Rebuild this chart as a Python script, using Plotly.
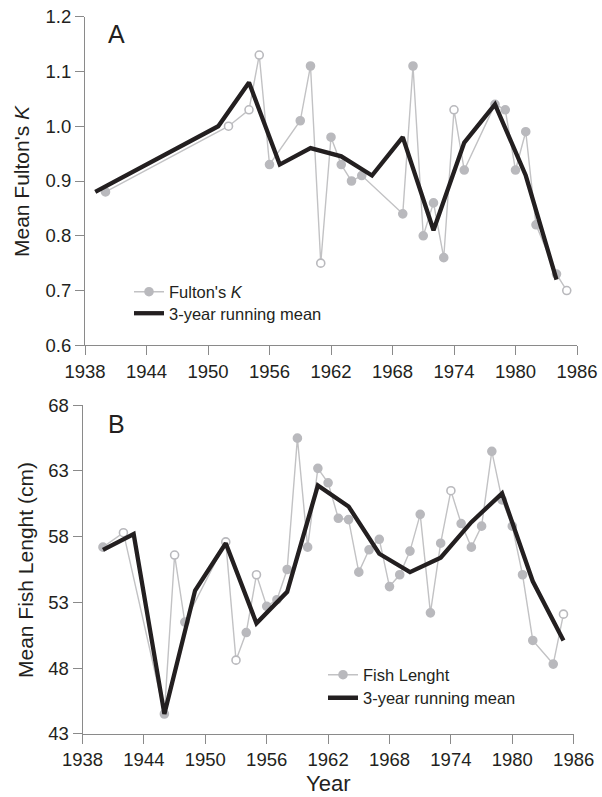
import plotly.graph_objects as go

# ---------------- data ----------------
years_k = [1940, 1952, 1954, 1955, 1956, 1959, 1960, 1961, 1962, 1963, 1964, 1965,
           1969, 1970, 1971, 1972, 1973, 1974, 1975, 1978, 1979, 1980, 1981, 1982,
           1984, 1985]
fulton_k = [0.88, 1.00, 1.03, 1.13, 0.93, 1.01, 1.11, 0.75, 0.98, 0.93, 0.90, 0.91,
            0.84, 1.11, 0.80, 0.86, 0.76, 1.03, 0.92, 1.04, 1.03, 0.92, 0.99, 0.82,
            0.73, 0.70]
open_years_k = [1952, 1954, 1955, 1961, 1974, 1985]

mean_years_k = [1939, 1951, 1954, 1957, 1960, 1963, 1966, 1969, 1972, 1975, 1978, 1981, 1984]
mean_k = [0.88, 1.00, 1.08, 0.93, 0.96, 0.945, 0.91, 0.98, 0.81, 0.97, 1.04, 0.91, 0.72]

years_len = [1940, 1942, 1946, 1947, 1948, 1952, 1953, 1954, 1955, 1956, 1957, 1958,
             1959, 1960, 1961, 1962, 1963, 1964, 1965, 1966, 1967, 1968, 1969, 1970,
             1971, 1972, 1973, 1974, 1975, 1976, 1977, 1978, 1979, 1980, 1981, 1982,
             1984, 1985]
fish_len = [57.2, 58.3, 44.5, 56.6, 51.5, 57.6, 48.6, 50.7, 55.1, 52.7, 53.2, 55.5,
            65.5, 57.2, 63.2, 62.1, 59.4, 59.3, 55.3, 57.0, 57.8, 54.2, 55.1, 56.9,
            59.7, 52.2, 57.5, 61.5, 59.0, 57.2, 58.8, 64.5, 60.8, 58.8, 55.1, 50.1,
            48.3, 52.1]
open_years_len = [1942, 1947, 1952, 1953, 1955, 1974, 1985]

mean_years_len = [1940, 1943, 1946, 1949, 1952, 1955, 1958, 1961, 1964, 1967, 1970,
                  1973, 1976, 1979, 1982, 1985]
mean_len = [57.0, 58.2, 44.5, 53.9, 57.5, 51.4, 53.8, 61.9, 60.3, 56.7, 55.3, 56.4,
            59.1, 61.3, 54.6, 50.1]

x_ticks = [1938, 1944, 1950, 1956, 1962, 1968, 1974, 1980, 1986]
k_ticks = [0.6, 0.7, 0.8, 0.9, 1.0, 1.1, 1.2]
len_ticks = [43, 48, 53, 58, 63, 68]

# ---------------- style ----------------
W, H = 602, 797
FONT = "Liberation Sans, Arial, sans-serif"
TXT = "#231f20"
GREY_M = "#b9b9bd"
GREY_L = "#c2c2c4"
BLACK = "#231f20"
AXC = "#8a8a8a"


def px_x(p):
    return p / W


def px_y(p):
    return 1 - p / H


def marker_fill(years, open_years):
    return ["white" if y in open_years else GREY_M for y in years]


fig = go.Figure()

# Panel A
fig.add_trace(go.Scatter(
    x=years_k, y=fulton_k, mode="lines+markers", name="Fulton's <i>K</i>",
    line=dict(color=GREY_L, width=1.4),
    marker=dict(size=8, color=marker_fill(years_k, open_years_k),
                line=dict(color=GREY_M, width=1.6)),
    xaxis="x", yaxis="y", legend="legend", cliponaxis=False))
fig.add_trace(go.Scatter(
    x=mean_years_k, y=mean_k, mode="lines", name="3-year running mean",
    line=dict(color=BLACK, width=4.3),
    xaxis="x", yaxis="y", legend="legend3", cliponaxis=False))

# Panel B
fig.add_trace(go.Scatter(
    x=years_len, y=fish_len, mode="lines+markers", name="Fish Lenght",
    line=dict(color=GREY_L, width=1.4),
    marker=dict(size=8, color=marker_fill(years_len, open_years_len),
                line=dict(color=GREY_M, width=1.6)),
    xaxis="x2", yaxis="y2", legend="legend2", cliponaxis=False))
fig.add_trace(go.Scatter(
    x=mean_years_len, y=mean_len, mode="lines", name="3-year running mean",
    line=dict(color=BLACK, width=4.3),
    xaxis="x2", yaxis="y2", legend="legend4", cliponaxis=False))

axis_common = dict(
    showgrid=False, zeroline=False, showline=True, linecolor=AXC, linewidth=1,
    ticks="outside", ticklen=9, tickcolor=AXC, tickwidth=1,
    tickfont=dict(family=FONT, size=18.5, color=TXT),
)


def legend_at(xpx, ypx):
    return dict(x=px_x(xpx), y=px_y(ypx), xanchor="left", yanchor="top",
                bgcolor="rgba(0,0,0,0)", borderwidth=0,
                font=dict(family=FONT, size=16.5, color=TXT))


LEG_OFF = 17.5  # approx distance from legend top to first item centre

fig.update_layout(
    width=W, height=H,
    margin=dict(l=0, r=0, t=0, b=0, autoexpand=False),
    paper_bgcolor="white", plot_bgcolor="white",
    font=dict(family=FONT, color=TXT),
    xaxis=dict(axis_common, domain=[px_x(85), px_x(577)], range=[1938, 1986],
               tickvals=x_ticks, anchor="y", automargin=False),
    yaxis=dict(axis_common, domain=[px_y(345.3), px_y(16.7)], range=[0.6, 1.2],
               tickvals=k_ticks, tickformat=".1f", anchor="x", automargin=False),
    xaxis2=dict(axis_common, domain=[px_x(82.5), px_x(573.7)], range=[1938, 1986],
                tickvals=x_ticks, anchor="y2", automargin=False),
    yaxis2=dict(axis_common, domain=[px_y(733.7), px_y(405.3)], range=[43, 68],
                tickvals=len_ticks, anchor="x2", automargin=False),
    legend=legend_at(129, 292 - LEG_OFF),
    legend3=legend_at(129, 313.5 - LEG_OFF),
    legend2=legend_at(323, 675 - LEG_OFF),
    legend4=legend_at(323, 698 - LEG_OFF),
    showlegend=True,
)

for txt, xp, yp in [("A", 116, 34), ("B", 116, 424)]:
    fig.add_annotation(text=txt, xref="paper", yref="paper", x=px_x(xp), y=px_y(yp),
                       showarrow=False, xanchor="center", yanchor="middle",
                       font=dict(family=FONT, size=25, color=TXT))

fig.add_annotation(text="Mean Fulton's <i>K</i>", xref="paper", yref="paper",
                   x=px_x(21), y=px_y(181), textangle=-90, showarrow=False,
                   xanchor="center", yanchor="middle",
                   font=dict(family=FONT, size=21, color=TXT))
fig.add_annotation(text="Mean Fish Lenght (cm)", xref="paper", yref="paper",
                   x=px_x(25), y=px_y(570), textangle=-90, showarrow=False,
                   xanchor="center", yanchor="middle",
                   font=dict(family=FONT, size=21, color=TXT))
fig.add_annotation(text="Year", xref="paper", yref="paper",
                   x=px_x(328), y=px_y(783), showarrow=False,
                   xanchor="center", yanchor="middle",
                   font=dict(family=FONT, size=22, color=TXT))

fig.write_html("out.html")
